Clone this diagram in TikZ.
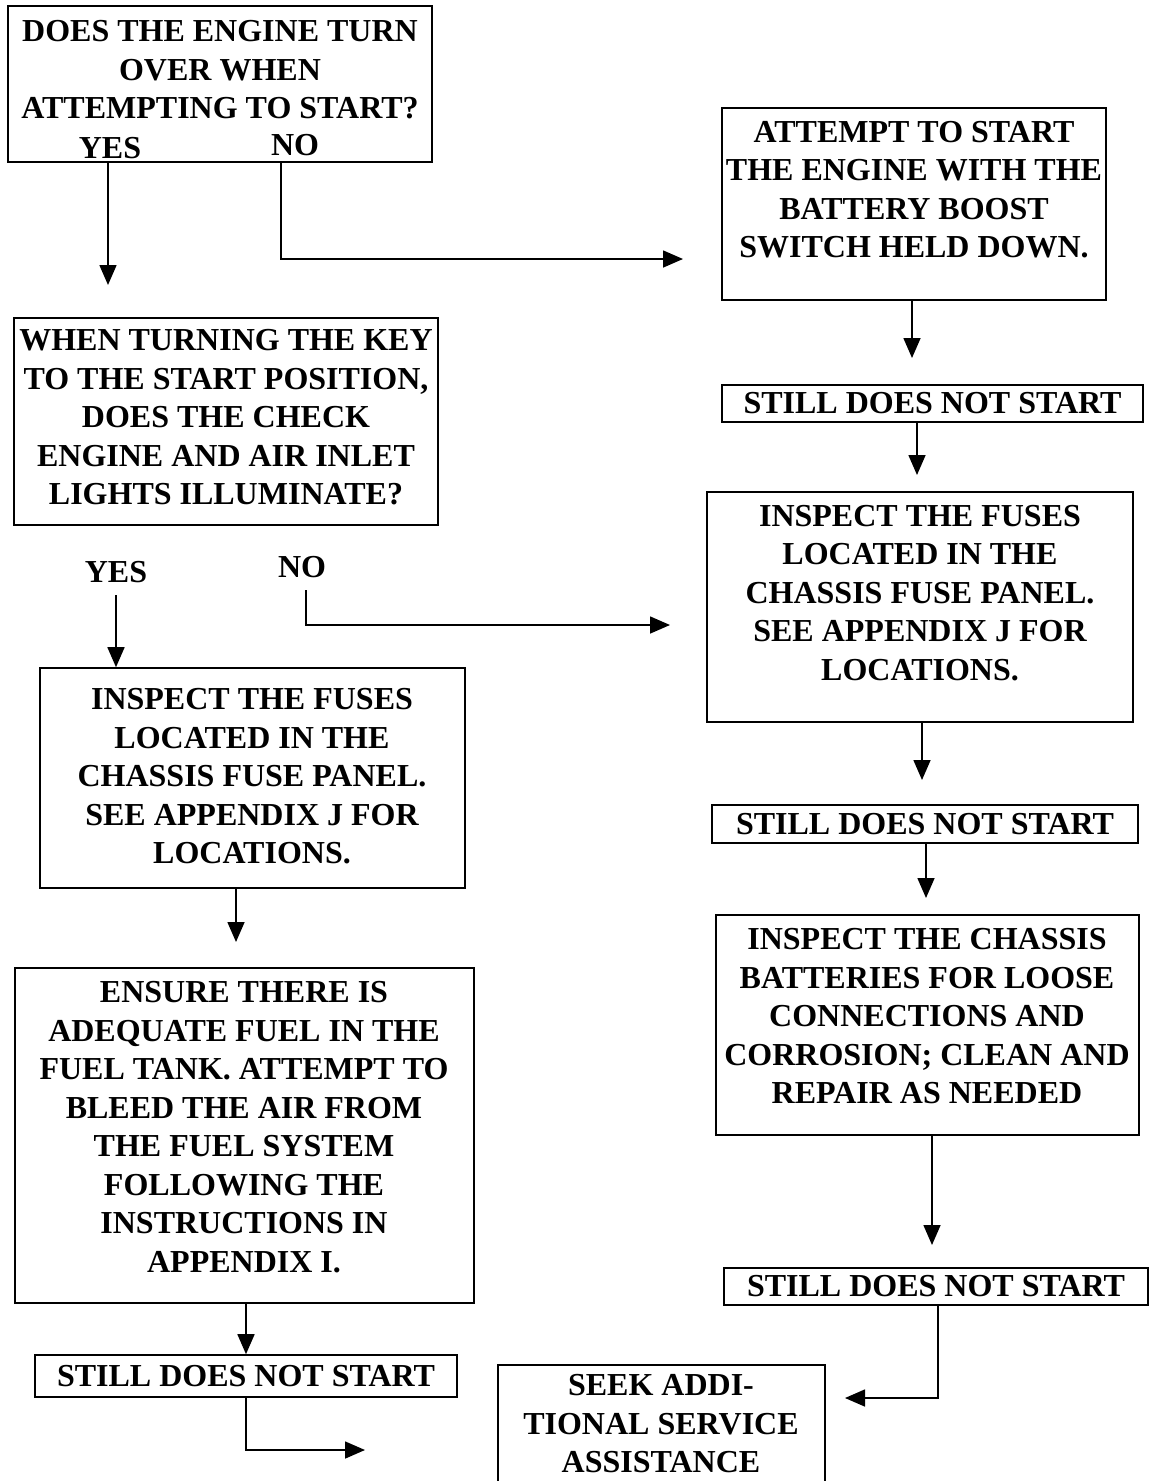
\documentclass[tikz,border=0pt]{standalone}
\usepackage{fontspec}
\setmainfont{Liberation Serif}
\usetikzlibrary{arrows.meta}
\begin{document}
\begin{tikzpicture}[x=1pt,y=-1pt,
  boxst/.style={draw, line width=1.6pt, rectangle, inner sep=0pt},
  txt/.style={font=\fontsize{32}{38.5}\selectfont\bfseries, align=center, inner sep=0pt},
  arr/.style={line width=1.6pt, -{Triangle[length=20pt,width=17pt]}}]
\useasboundingbox (0,0) rectangle (1150,1481);
\clip (0,0) rectangle (1150,1481);

% boxes
\node[boxst, minimum width=424pt, minimum height=156pt] (b1) at (220,84) {};
\node[boxst, minimum width=384pt, minimum height=192pt] (b2) at (914,204) {};
\node[boxst, txt, minimum width=421pt, minimum height=37pt] (s1) at (932.5,403.5) {STILL DOES NOT START};
\node[boxst, minimum width=426pt, minimum height=230pt] (b3) at (920,607) {};
\node[boxst, txt, minimum width=426pt, minimum height=38pt] (s2) at (925,824) {STILL DOES NOT START};
\node[boxst, minimum width=423pt, minimum height=220pt] (b4) at (927.5,1025) {};
\node[boxst, txt, minimum width=424pt, minimum height=37pt] (s3) at (936,1286.5) {STILL DOES NOT START};
\node[boxst, minimum width=327pt, minimum height=135pt] (seek) at (661.5,1432.5) {};
\node[boxst, minimum width=424pt, minimum height=207pt] (b5) at (226,421.5) {};
\node[boxst, minimum width=425pt, minimum height=220pt] (b6) at (252.5,778) {};
\node[boxst, minimum width=459pt, minimum height=335pt] (b7) at (244.5,1135.5) {};
\node[boxst, txt, minimum width=422pt, minimum height=42pt] (s4) at (246,1376) {STILL DOES NOT START};

% texts
\node[txt] (t1) at (220,70) {DOES THE ENGINE TURN\\OVER WHEN\\ATTEMPTING TO START?};
\node[txt] (yes1) at (110,148) {YES};
\node[txt] (no1) at (295,145) {NO};
\node[txt] (t2) at (914,189.5) {ATTEMPT TO START\\THE ENGINE WITH THE\\BATTERY BOOST\\SWITCH HELD DOWN.};
\node[txt] (t3) at (920,593) {INSPECT THE FUSES\\LOCATED IN THE\\CHASSIS FUSE PANEL.\\SEE APPENDIX J FOR\\LOCATIONS.};
\node[txt] (t4) at (927,1016.5) {INSPECT THE CHASSIS\\BATTERIES FOR LOOSE\\CONNECTIONS AND\\CORROSION; CLEAN AND\\REPAIR AS NEEDED};
\node[txt] (tseek) at (661,1424) {SEEK ADDI-\\TIONAL SERVICE\\ASSISTANCE};
\node[txt] (t5) at (226,417.5) {WHEN TURNING THE KEY\\TO THE START POSITION,\\DOES THE CHECK\\ENGINE AND AIR INLET\\LIGHTS ILLUMINATE?};
\node[txt] (yes2) at (116,572) {YES};
\node[txt] (no2) at (302,567) {NO};
\node[txt] (t6) at (252,776.5) {INSPECT THE FUSES\\LOCATED IN THE\\CHASSIS FUSE PANEL.\\SEE APPENDIX J FOR\\LOCATIONS.};
\node[txt] (t7) at (244,1127) {ENSURE THERE IS\\ADEQUATE FUEL IN THE\\FUEL TANK. ATTEMPT TO\\BLEED THE AIR FROM\\THE FUEL SYSTEM\\FOLLOWING THE\\INSTRUCTIONS IN\\APPENDIX I.};

% free ends / bends
\coordinate (e1) at (108,285);
\coordinate (n1) at (281,259);
\coordinate (e2) at (683,259);
\coordinate (e3) at (912,358);
\coordinate (e4) at (917,475);
\coordinate (e5) at (922,780);
\coordinate (e6) at (926,898);
\coordinate (e7) at (932,1245);
\coordinate (n8) at (938,1398);
\coordinate (e8) at (845,1398);
\coordinate (y2s) at (116,595);
\coordinate (n2s) at (306,590);
\coordinate (n2) at (306,625);
\coordinate (e10) at (670,625);
\coordinate (e11) at (236,942);
\coordinate (n13) at (246,1450);
\coordinate (e13) at (365,1450);

% connectors
\draw[arr] (b1.south -| e1) -- (e1);
\draw[arr] (b1.south -| n1) -- (n1) -- (e2);
\draw[arr] (b2.south -| e3) -- (e3);
\draw[arr] (s1.south -| e4) -- (e4);
\draw[arr] (b3.south -| e5) -- (e5);
\draw[arr] (s2.south -| e6) -- (e6);
\draw[arr] (b4.south -| e7) -- (e7);
\draw[arr] (s3.south -| n8) -- (n8) -- (e8);
\draw[arr] (y2s) -- (b6.north -| y2s);
\draw[arr] (n2s) -- (n2) -- (e10);
\draw[arr] (b6.south -| e11) -- (e11);
\draw[arr] (b7.south -| s4) -- (s4.north);
\draw[arr] (s4.south) -- (n13) -- (e13);
\end{tikzpicture}
\end{document}
